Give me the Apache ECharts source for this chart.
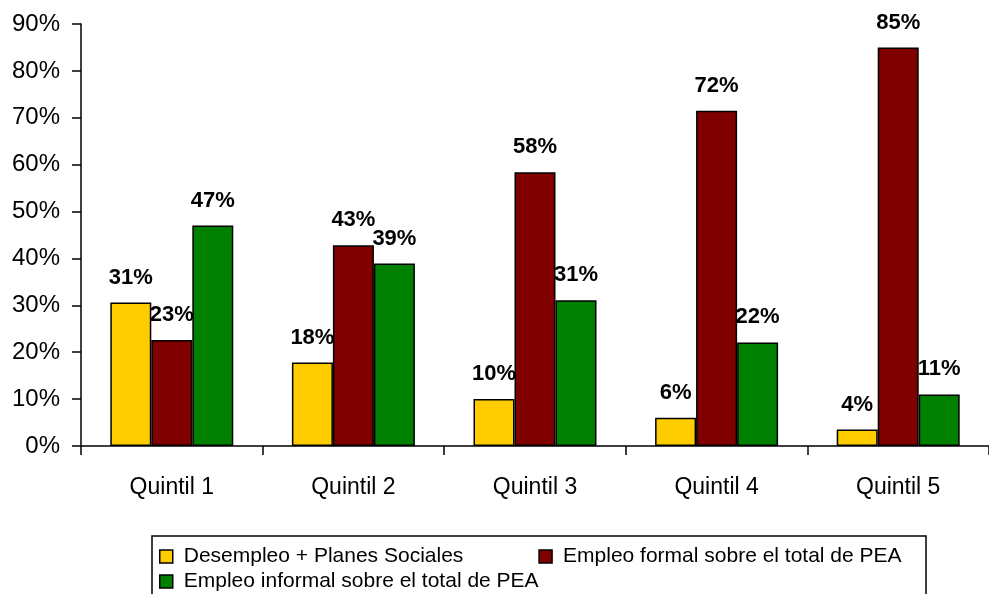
<!DOCTYPE html>
<html lang="es">

<head>
    <meta charset="UTF-8">
    <title>Quintiles</title>
    <script src="https://cdn.jsdelivr.net/npm/echarts@6/dist/echarts.min.js"></script>
    <style>
        html,
        body {
            margin: 0;
            padding: 0;
            background-color: #fff;
        }

        #pic {
            width: 989px;
            height: 594px;
        }
    </style>
</head>

<body>
    <div id="pic"></div>

    <script>
        // datos
        const categories = ['Quintil 1', 'Quintil 2', 'Quintil 3', 'Quintil 4', 'Quintil 5'];
        const seriesNames = [
            'Desempleo + Planes Sociales',
            'Empleo formal sobre el total de PEA',
            'Empleo informal sobre el total de PEA'
        ];
        const desempleo = [30.6, 17.8, 10.0, 6.0, 3.5];
        const formal = [22.6, 42.8, 58.4, 71.5, 85.0];
        const informal = [47.0, 38.9, 31.1, 22.1, 11.0];
        const yTicks = [0, 10, 20, 30, 40, 50, 60, 70, 80, 90];

        const colors = ['#FFCC00', '#800000', '#008000'];
        const font = 'Arial, "Liberation Sans", sans-serif';

        var myChart = echarts.init(document.getElementById('pic'));

        function barSeries(name, data, color) {
            return {
                name: name,
                type: 'bar',
                data: data,
                barWidth: 41,
                barGap: '0%',
                itemStyle: {
                    color: color,
                    borderColor: '#000',
                    borderWidth: 1.5
                },
                label: {
                    show: true,
                    position: 'top',
                    distance: 14,
                    color: '#000',
                    fontFamily: font,
                    fontSize: 22,
                    fontWeight: 'bold',
                    formatter: p => Math.round(p.value) + '%'
                }
            };
        }

        var legendText = {
            color: '#000',
            fontFamily: font,
            fontSize: 21,
            lineHeight: 25,
            padding: [0, 0, 0, 6]
        };

        var option = {
            animation: false,
            textStyle: { fontFamily: font },
            grid: {
                left: 81,
                right: -7,
                top: 24,
                bottom: 148
            },
            legend: [{
                data: [seriesNames[0], seriesNames[1]],
                left: 159,
                top: 544,
                padding: 0,
                itemGap: 75,
                icon: 'rect',
                itemWidth: 13,
                itemHeight: 13,
                itemStyle: { borderColor: '#000', borderWidth: 1.5 },
                textStyle: legendText
            }, {
                data: [seriesNames[2]],
                left: 159,
                top: 569,
                padding: 0,
                icon: 'rect',
                itemWidth: 13,
                itemHeight: 13,
                itemStyle: { borderColor: '#000', borderWidth: 1.5 },
                textStyle: legendText
            }],
            graphic: [{
                type: 'rect',
                shape: { x: 152, y: 536, width: 774, height: 80 },
                style: { fill: 'none', stroke: '#000', lineWidth: 1.5 },
                silent: true
            }],
            xAxis: {
                type: 'category',
                data: categories,
                axisLine: { lineStyle: { color: '#000', width: 1.5 } },
                axisTick: {
                    show: true,
                    length: 9,
                    lineStyle: { color: '#000', width: 1.5 }
                },
                axisLabel: {
                    color: '#000',
                    fontSize: 23,
                    margin: 30
                }
            },
            yAxis: {
                type: 'value',
                min: yTicks[0],
                max: yTicks[yTicks.length - 1],
                interval: 10,
                axisLine: { show: true, lineStyle: { color: '#000', width: 1.5 } },
                axisTick: {
                    show: true,
                    length: 9,
                    lineStyle: { color: '#000', width: 1.5 }
                },
                splitLine: { show: false },
                axisLabel: {
                    color: '#000',
                    fontSize: 24,
                    margin: 21,
                    formatter: '{value}%'
                }
            },
            series: [
                barSeries(seriesNames[0], desempleo, colors[0]),
                barSeries(seriesNames[1], formal, colors[1]),
                barSeries(seriesNames[2], informal, colors[2])
            ]
        };

        myChart.setOption(option);
    </script>
</body>

</html>
